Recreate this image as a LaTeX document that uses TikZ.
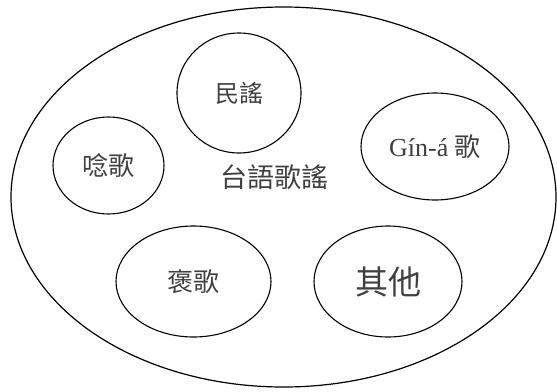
\documentclass[tikz,border=0pt]{standalone}
\usepackage{fontspec}
\setmainfont{Liberation Serif}
\newfontfamily\cjk{Noto Sans CJK TC}
\usepackage{tikz}
\usetikzlibrary{shapes,positioning}
\usepackage{xcolor}
\definecolor{txgray}{RGB}{64,64,64}
\tikzstyle{bubble} = [ellipse, draw=black, line width=1.1pt, inner sep=0pt, text=txgray]
\tikzstyle{songtext} = [text=txgray, inner sep=0pt]

\begin{document}
\begin{tikzpicture}[x=1pt, y=-1pt]
\useasboundingbox (0,0) rectangle (557,391);
% Outer genre
\node[bubble, line width=1.2pt, minimum width=545pt, minimum height=380pt] (all) at (283.5,197) {};
\node[songtext, font=\cjk\fontsize{27}{27}\selectfont] (title) at (274.5,177) {台語歌謠};

% Sub genres
\node[bubble, minimum width=124pt, minimum height=120pt, font=\cjk\fontsize{24}{24}\selectfont] (folk) at (239,93) {民謠};
\node[bubble, minimum width=111pt, minimum height=97pt, font=\cjk\fontsize{26}{26}\selectfont] (liam) at (108.5,165.5) {唸歌};
\node[bubble, minimum width=148pt, minimum height=107pt, font=\fontsize{26}{26}\selectfont] (gina) at (435,146.5) {Gín-á {\cjk 歌}};
\node[bubble, minimum width=155pt, minimum height=111pt, font=\cjk\fontsize{26}{26}\selectfont] (po) at (193.5,281.5) {褒歌};
\node[bubble, minimum width=148pt, minimum height=111pt, font=\cjk\fontsize{33}{33}\selectfont] (other) at (388,281.5) {其他};
\end{tikzpicture}
\end{document}
